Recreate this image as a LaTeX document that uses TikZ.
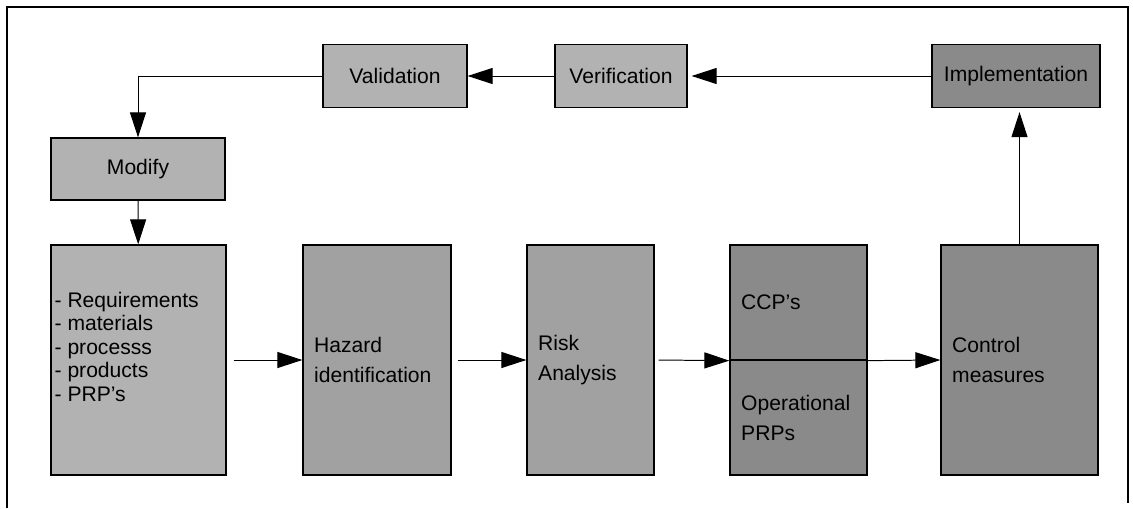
\documentclass[tikz,border=0pt]{standalone}
\usepackage{fontspec}
\setmainfont{Liberation Sans}
\usetikzlibrary{arrows.meta}
\colorlet{boxlight}{black!30}
\colorlet{boxmid}{black!37}
\colorlet{boxdark}{black!46}
\begin{document}
\begin{tikzpicture}[>={Triangle[length=0.625cm, width=0.4cm]},
    stepbox/.style={draw, line width=0.9pt, minimum height=1.575cm, font=\fontsize{15}{21.3}\selectfont},
    tallbox/.style={stepbox, minimum height=5.75cm, align=left, inner xsep=0.28cm},
    flow/.style={->, line width=0.7pt}]
    \useasboundingbox (0,0) rectangle (28.325,-12.7);
    % open frame
    \draw[line width=1pt] (0.175,-12.7) -- (0.175,-0.175) -- (28.2,-0.175) -- (28.2,-12.575);
    % top row
    \node[stepbox, fill=boxlight, minimum width=3.6cm] (valid) at (9.875,-1.9) {Validation};
    \node[stepbox, fill=boxlight, minimum width=3.3cm] (verif) at (15.525,-1.9) {Verification};
    \node[stepbox, fill=boxdark, minimum width=4.2cm] (impl) at (25.4,-1.9) {Implementation};
    \node[stepbox, fill=boxlight, minimum width=4.35cm, minimum height=1.55cm] (modify) at (3.45,-4.225) {Modify};
    % bottom row
    \node[tallbox, fill=boxlight, minimum width=4.375cm] (req) at (3.4625,-9.0) {};
    \node[anchor=west, align=left, inner sep=0pt, font=\fontsize{15}{16.7}\selectfont] (reqlist)
        at ([xshift=0.1cm, yshift=0.33cm]req.west) {- Requirements\\- materials\\- processs\\- products\\- PRP’s};
    \node[tallbox, fill=boxmid, text width=3.14cm] (hazard) at (9.425,-9.0) {Hazard\\identification};
    \node[tallbox, fill=boxmid, text width=2.615cm] (risk) at (14.7625,-9.0) {Risk\\Analysis};
    \node[tallbox, fill=boxdark, text width=2.865cm, minimum height=2.875cm] (ccp) at (19.9625,-7.5625) {CCP’s};
    \node[tallbox, fill=boxdark, text width=2.865cm, minimum height=2.875cm] (oprp) at (19.9625,-10.4375) {Operational\\PRPs};
    \node[tallbox, fill=boxdark, text width=3.365cm] (control) at (25.4875,-9.0) {Control\\measures};
    % connectors
    \draw[flow, shorten >=0.1cm] (impl) -- (verif);
    \draw[flow] (verif) -- (valid);
    \draw[flow] (valid.west) -| (modify.north);
    \draw[flow] (modify) -- (req);
    \draw[flow, shorten <=0.175cm] (req) -- (hazard);
    \draw[flow, shorten <=0.15cm] (hazard) -- (risk);
    \draw[flow, shorten <=0.1cm] (risk.east) -- (ccp.south west);
    \draw[flow] (ccp.south east) -- (control.west);
    \draw[flow, shorten >=0.1cm] (control.north) -- (control.north |- impl.south);
\end{tikzpicture}
\end{document}
